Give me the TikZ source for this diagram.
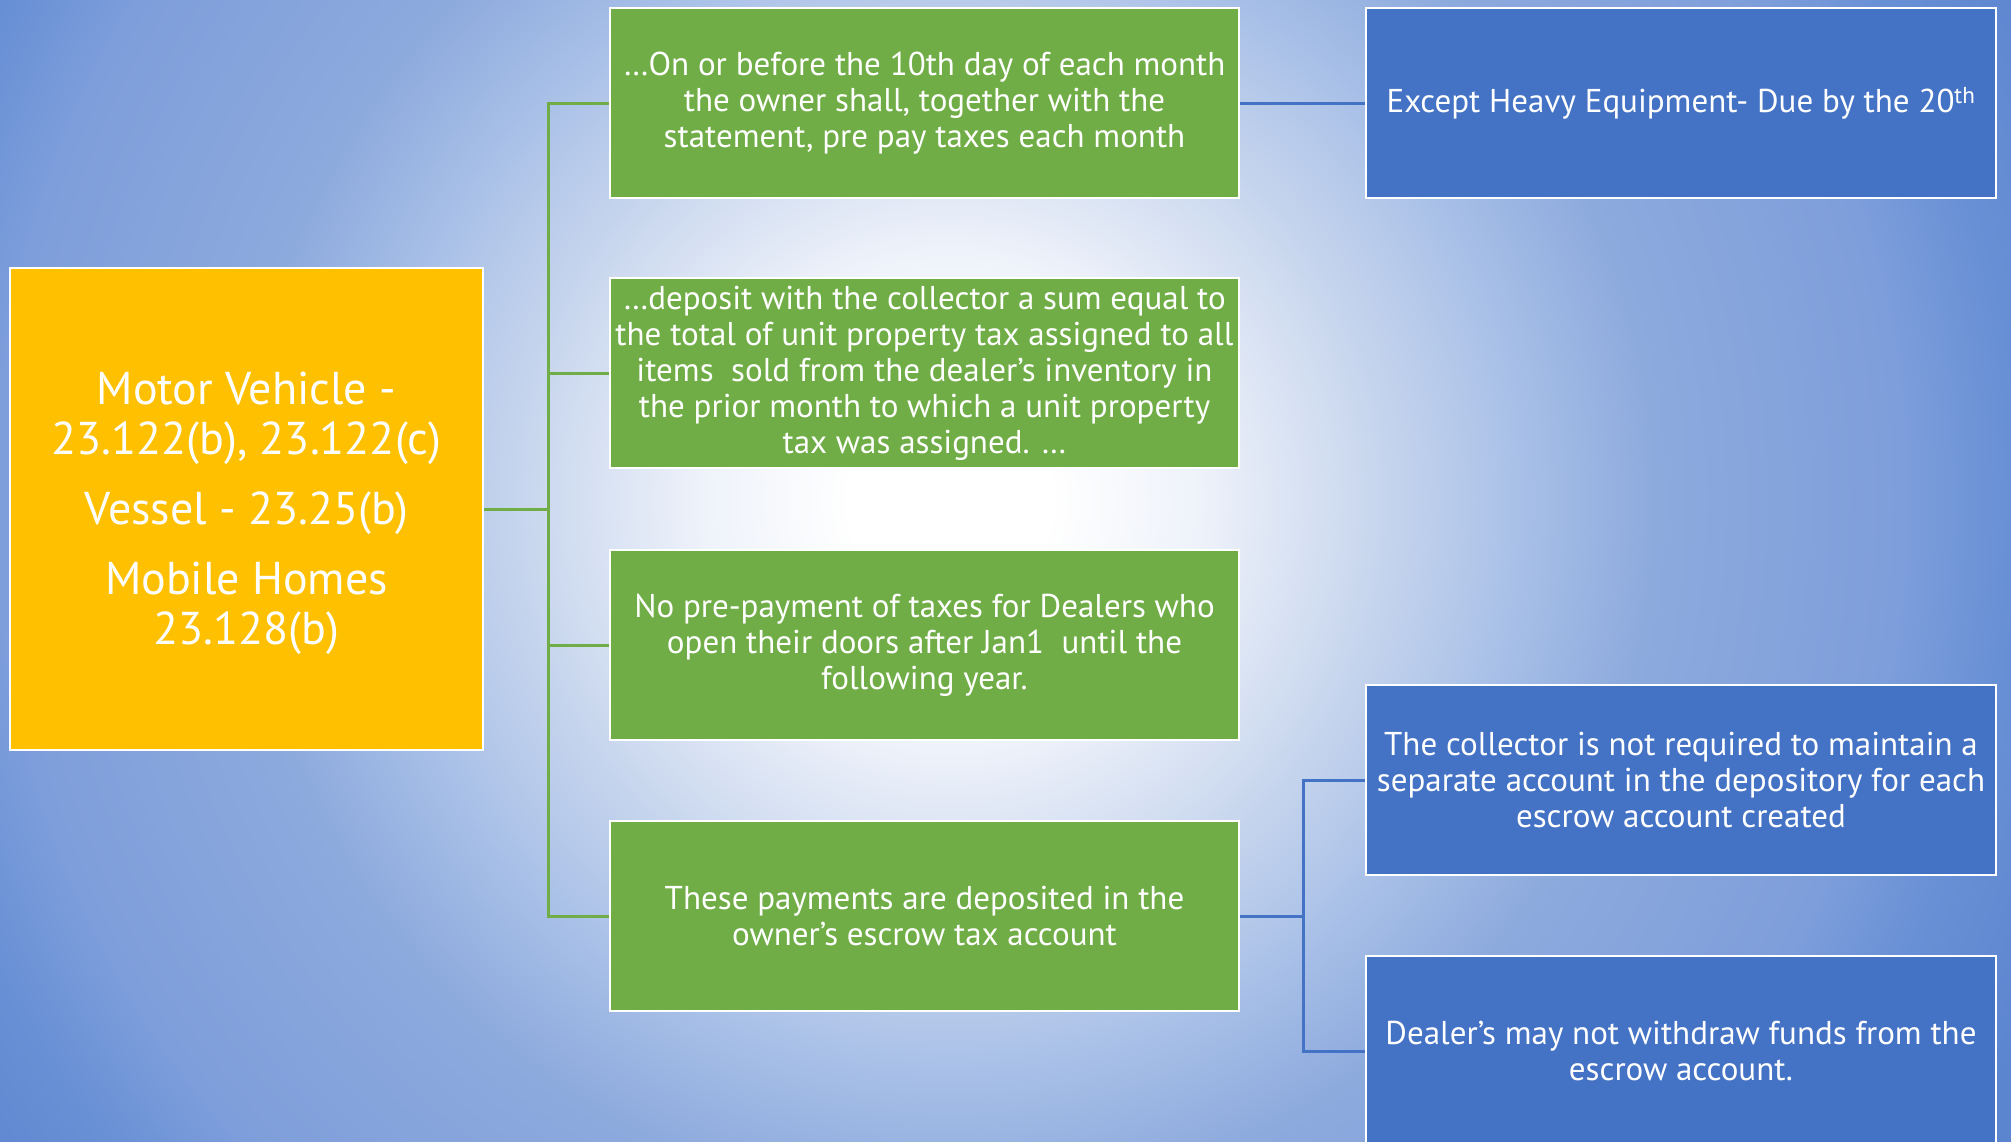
\documentclass[tikz,border=0pt]{standalone}
\usepackage{fontspec}
\setmainfont{PT Sans}
\usetikzlibrary{calc}
\definecolor{yel}{HTML}{FFC000}
\definecolor{grn}{HTML}{70AD47}
\definecolor{blu}{HTML}{4472C4}
\definecolor{bgA}{HTML}{EEF2FA}
\definecolor{bgB}{HTML}{C9D7EE}
\definecolor{bgC}{HTML}{A3BCE6}
\definecolor{bgD}{HTML}{8DAADD}
\definecolor{bgE}{HTML}{7E9EDB}
\definecolor{bgF}{HTML}{6890D5}
\definecolor{bgG}{HTML}{5C85D0}
\pgfdeclareradialshading{bgshade}{\pgfpoint{0bp}{0bp}}{color(0bp)=(white); color(2bp)=(white); color(5bp)=(bgA); color(8.4bp)=(bgB); color(11.9bp)=(bgC); color(14.1bp)=(bgD); color(19bp)=(bgE); color(21.2bp)=(bgF); color(24bp)=(bgG); color(50bp)=(bgG)}
\begin{document}
\begin{tikzpicture}[x=1pt,y=-1pt,
  box/.style={draw=white, line width=2.5pt, text=white, align=center, inner sep=0pt},
  ybox/.style={box, fill=yel, minimum width=473pt, minimum height=482pt, font=\fontsize{46}{50}\selectfont},
  gbox/.style={box, fill=grn, minimum width=629pt, minimum height=190pt, font=\fontsize{33}{36}\selectfont},
  bbox/.style={box, fill=blu, minimum width=630pt, minimum height=190pt, font=\fontsize{33}{36}\selectfont},
  gline/.style={draw=grn, line width=3pt},
  bline/.style={draw=blu, line width=3pt}]
\useasboundingbox (0,0) rectangle (2011,1141);
\begin{scope}
\clip (0,0) rectangle (2011,1141);
\shade[shading=bgshade] (950,500) circle[radius=1250pt];
\end{scope}

\node[ybox] (Y) at (246.5,509) {};
\node[text=white, align=center, inner sep=0pt, font=\fontsize{46}{50}\selectfont] (Yt) at (246.5,513) {Motor Vehicle -\\23.122(b), 23.122(c)\\[20pt]Vessel - 23.25(b)\\[20pt]Mobile Homes\\23.128(b)};

\node[gbox] (G1) at (924.5,103) {…On or before the 10th day of each month\\the owner shall, together with the\\statement, pre pay taxes each month};
\node[gbox] (G2) at (924.5,373) {…deposit with the collector a sum equal to\\the total of unit property tax assigned to all\\items\ \ sold from the dealer’s inventory in\\the prior month to which a unit property\\tax was assigned. …};
\node[gbox] (G3) at (924.5,645) {No pre-payment of taxes for Dealers who\\open their doors after Jan1\ \ until the\\following year.};
\node[gbox] (G4) at (924.5,916) {These payments are deposited in the\\owner’s escrow tax account};

\node[bbox] (B1) at (1681,103) {Except Heavy Equipment- Due by the 20\textsuperscript{th}};
\node[bbox] (B2) at (1681,780) {The collector is not required to maintain a\\separate account in the depository for each\\escrow account created};
\node[bbox] (B3) at (1681,1051) {Dealer’s may not withdraw funds from the\\escrow account.};

\coordinate (jg) at (548,509);
\coordinate (jb) at (1303,916);

\draw[gline] (Y.east) -- (jg) |- (G1.west);
\draw[gline] (jg) |- (G2.west);
\draw[gline] (jg) |- (G3.west);
\draw[gline] (jg) |- (G4.west);

\draw[bline] (G1.east) -- (B1.west);
\draw[bline] (G4.east) -- (jb) |- (B2.west);
\draw[bline] (jb) |- (B3.west);
\end{tikzpicture}
\end{document}
